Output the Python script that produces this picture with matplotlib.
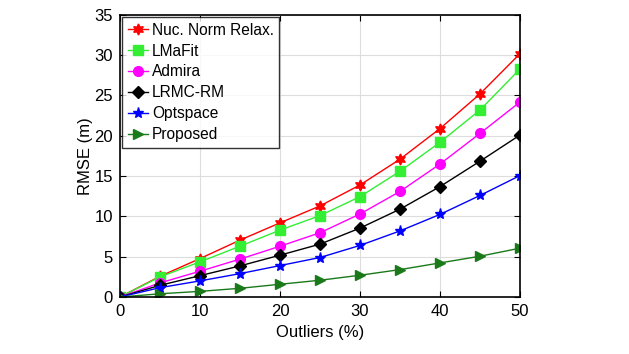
import matplotlib
matplotlib.use("Agg")
import matplotlib.pyplot as plt
import numpy as np

plt.rcParams['font.family'] = ['Liberation Sans', 'DejaVu Sans']

outliers = [0, 5, 10, 15, 20, 25, 30, 35, 40, 45, 50]
nuc = [0, 2.57, 4.77, 7.06, 9.2, 11.3, 13.9, 17.1, 20.9, 25.2, 30.2]
lmafit = [0, 2.5, 4.36, 6.3, 8.3, 10.1, 12.45, 15.6, 19.2, 23.2, 28.3]
admira = [0, 1.75, 3.2, 4.7, 6.3, 7.97, 10.3, 13.1, 16.5, 20.3, 24.2]
lrmc = [0, 1.45, 2.65, 3.86, 5.19, 6.56, 8.55, 10.9, 13.7, 16.85, 20.1]
optspace = [0, 1.16, 2.0, 2.9, 3.9, 4.9, 6.4, 8.2, 10.25, 12.6, 15.07]
proposed = [0, 0.4, 0.7, 1.08, 1.58, 2.08, 2.7, 3.4, 4.23, 5.06, 6.06]

labels = ['Nuc. Norm Relax.', 'LMaFit', 'Admira', 'LRMC-RM', 'Optspace', 'Proposed']
series = [nuc, lmafit, admira, lrmc, optspace, proposed]
colors = ['#ff0000', '#33ee33', '#ff00ff', '#000000', '#0000ff', '#1a7a1a']
markers = [(6, 1, 0), 's', 'o', 'D', '*', '>']
msizes = [8, 6.5, 7, 6, 8, 7]

fig = plt.figure(figsize=(6.29, 3.54), dpi=100)
ax = fig.add_axes([0.1908, 0.161, 0.636, 0.797])

for y, lab, c, m, ms in zip(series, labels, colors, markers, msizes):
    ax.plot(outliers, y, color=c, marker=m, markersize=ms, markerfacecolor=c,
            markeredgecolor=c, linewidth=1.0, label=lab)

ax.set_xlim(0, 50)
ax.set_ylim(0, 35)
ax.set_xticks([0, 10, 20, 30, 40, 50])
ax.set_yticks([0, 5, 10, 15, 20, 25, 30, 35])
ax.grid(True, color='#dddddd', linewidth=0.8)
ax.set_axisbelow(True)
ax.tick_params(direction='in', labelsize=12, length=4, top=True, right=True, pad=5)
for s in ax.spines.values():
    s.set_linewidth(1.2)
ax.set_xlabel('Outliers (%)', fontsize=12, labelpad=4)
ax.set_ylabel('RMSE (m)', fontsize=12, labelpad=1)

leg = ax.legend(loc='upper left', fontsize=11.2, frameon=True, fancybox=False,
                edgecolor='black', borderaxespad=0.15, handlelength=1.3,
                handletextpad=0.25, labelspacing=0.38, borderpad=0.35)
leg.get_frame().set_linewidth(1.0)

fig.savefig('out.png', dpi=100)
